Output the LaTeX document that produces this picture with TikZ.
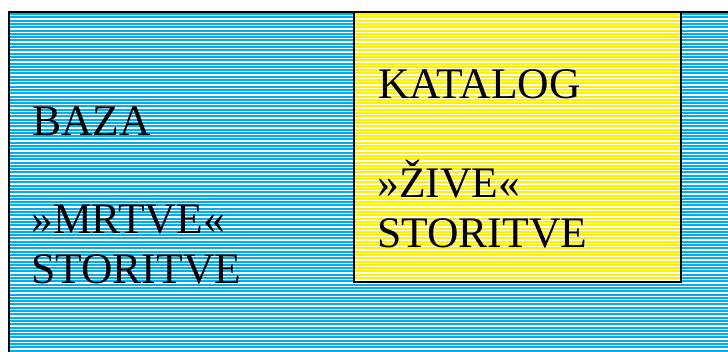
\documentclass[tikz,border=0pt]{standalone}
\usepackage{fontspec}
\setmainfont{Liberation Serif}
\usetikzlibrary{positioning}
\begin{document}
\begin{tikzpicture}[
  x=0.75pt,y=-0.75pt,
  lbl/.style={inner sep=0pt,anchor=base west,font=\fontsize{32.7}{37.5}\selectfont},
  hatch/.style={line width=1.5pt}
]
\useasboundingbox (0,0) rectangle (728,351);
\clip (0,0) rectangle (728,351);
\fill[white] (0,0) rectangle (728,351);
\foreach \y in {14,17.3,...,352} \draw[hatch,cyan] (9,\y) -- (728,\y);
\fill[white] (354,12) rectangle (681,282);
\foreach \y in {14,17.3,...,281} \draw[hatch,yellow] (354,\y) -- (681,\y);
\draw[line width=1.8pt] (9,360) |- (740,12);
\draw[line width=1.6pt] (354,12) rectangle (681,282);
\node[lbl] (baza) at (32,135) {BAZA};
\node[lbl] (mrtve) at (31,233) {»MRTVE«};
\node[lbl] (mstor) at ([yshift=-37.5pt]mrtve.base west) {STORITVE};
\node[lbl] (katalog) at (378,98) {KATALOG};
\node[lbl] (zive) at (377,197) {»ŽIVE«};
\node[lbl] (zstor) at ([yshift=-37.5pt]zive.base west) {STORITVE};
\end{tikzpicture}
\end{document}
